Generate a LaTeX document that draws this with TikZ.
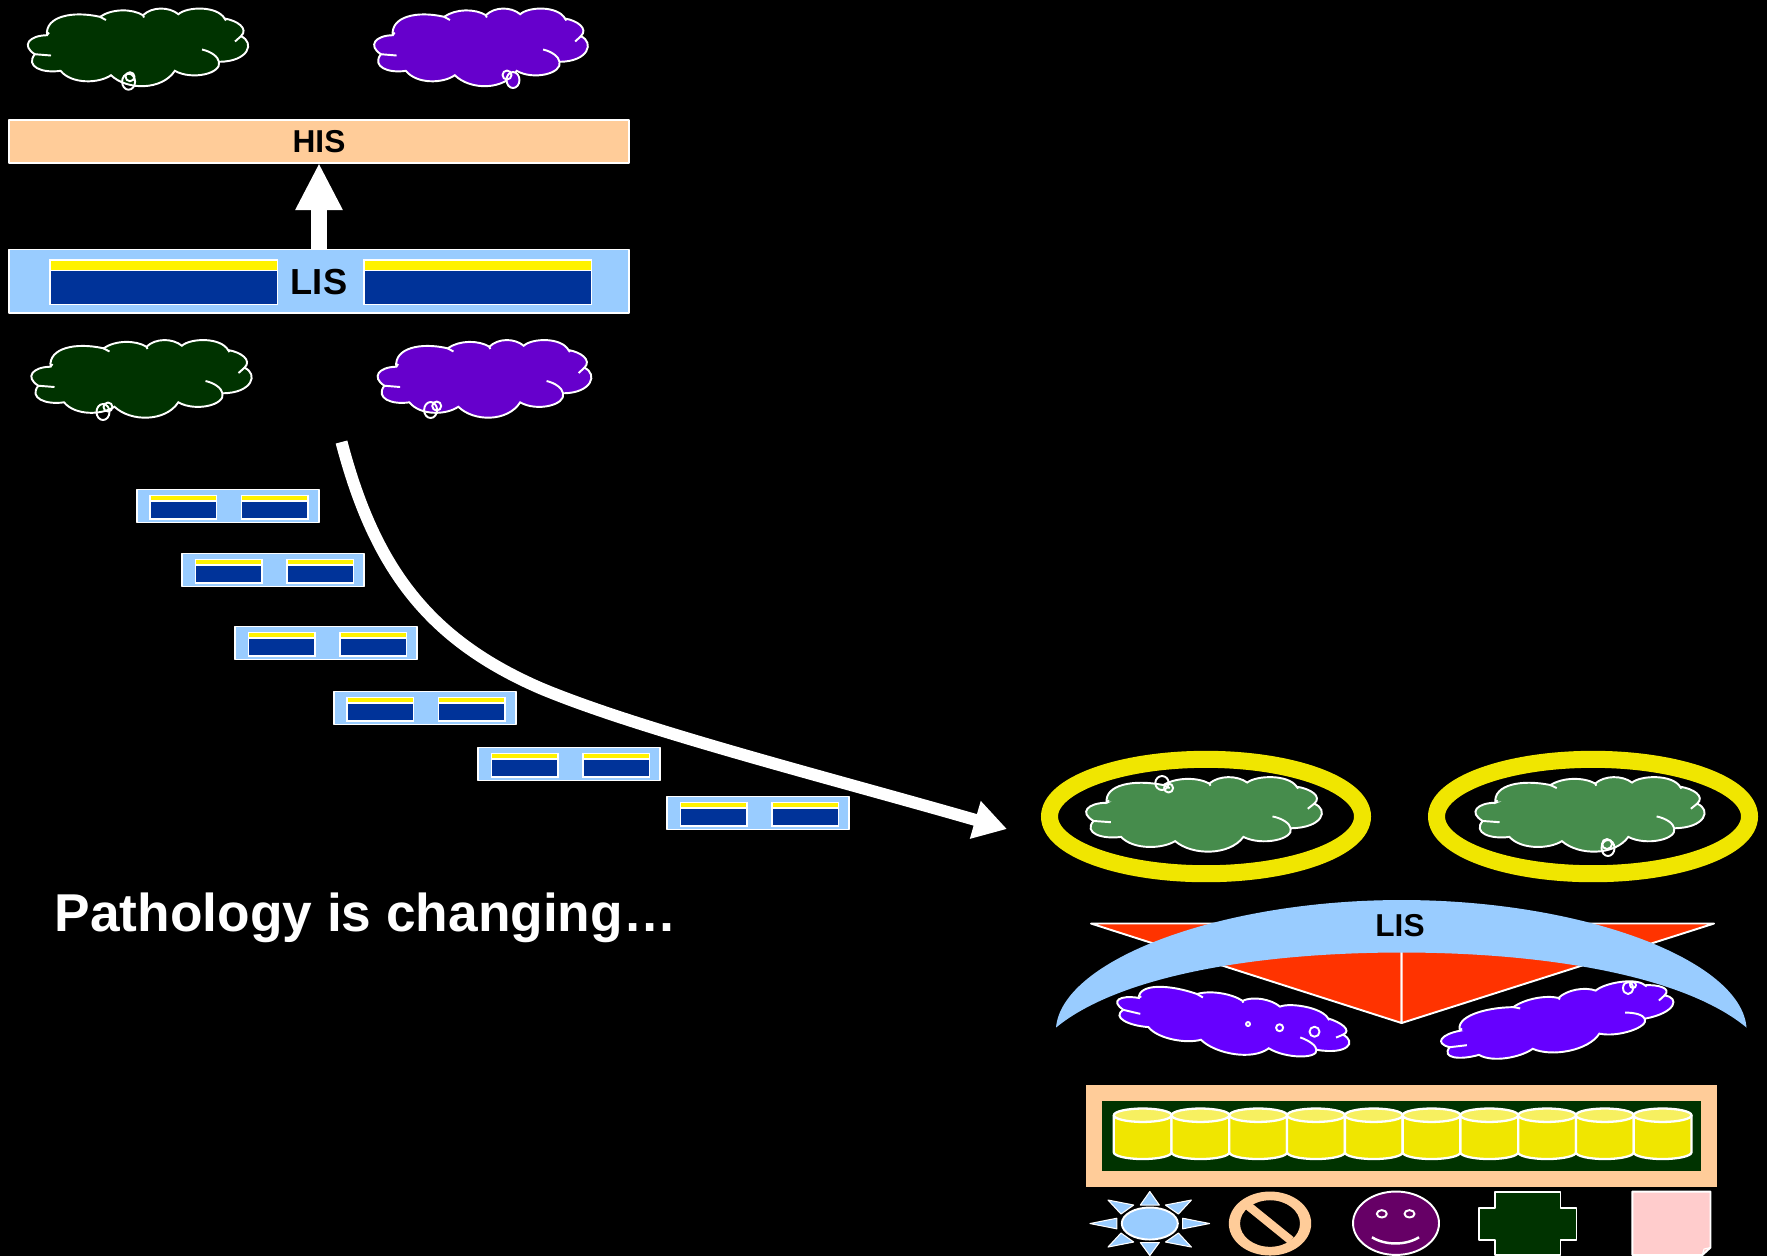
\documentclass[tikz,border=0pt]{standalone}
\usepackage{fontspec}
\setmainfont{Liberation Sans}
\usetikzlibrary{arrows.meta}

\definecolor{darkgreen}{HTML}{003300}
\definecolor{midgreen}{HTML}{468C4C}
\definecolor{deeppurple}{HTML}{6600CC}
\definecolor{brightpurple}{HTML}{6600FF}
\definecolor{plum}{HTML}{660066}
\definecolor{peach}{HTML}{FFCC99}
\definecolor{skyblue}{HTML}{99CCFF}
\definecolor{navy}{HTML}{003399}
\definecolor{ringyellow}{HTML}{F0E600}
\definecolor{lightyellow}{HTML}{F7F060}
\definecolor{redorange}{HTML}{FF3300}
\definecolor{notepink}{HTML}{FFCCCC}

\tikzset{
  thin line/.style={draw=white,line width=0.55pt,line join=round},
  bubble/.style={thin line},
  titlebar/.style={thin line,rectangle,inner sep=0pt,outer sep=0pt,font=\bfseries,text=black},
  bigarrow/.style={white,line width=#1},
  cloud/.pic={
    \draw[pic actions,shift={(-111,-39)}]
      (20,26.7) .. controls (18,8) and (45,2) .. (73,8.3)
      .. controls (85,0) and (105,0) .. (116,6.7)
      .. controls (125,-2) and (142,-2) .. (151.4,5.7)
      .. controls (160,-2) and (190,-3) .. (197.6,10)
      .. controls (210,12) and (222,20) .. (214,27.7)
      .. controls (228,34) and (222,53) .. (192,53.3)
      .. controls (195,65) and (165,72) .. (147.8,62.3)
      .. controls (135,82) and (100,82) .. (84,66.7)
      .. controls (72,75) and (45,76) .. (33.5,62.3)
      .. controls (15,65) and (-2,58) .. (7.8,45.7)
      .. controls (-6,37) and (2,27) .. cycle;
    \draw[thin line,shift={(-111,-39)}] (7.8,45.7) -- (24,47);
    \draw[thin line,shift={(-111,-39)}] (73,8.3) -- (79,11.5);
    \draw[thin line,shift={(-111,-39)}] (116,6.7) -- (117,9);
    \draw[thin line,shift={(-111,-39)}] (197.6,10) -- (199,12);
    \draw[thin line,shift={(-111,-39)}] (214,27.7) -- (208,33);
    \draw[thin line,shift={(-111,-39)}] (175,41) .. controls (184,43) and (191,48) .. (192,53.3);
    \draw[thin line,shift={(-111,-39)}] (20,26.7) -- (22,24);
  },
  lisbar/.pic={
    \draw[thin line,fill=skyblue] (0,0) rectangle (182,33);
    \foreach \x in {12.5,104}{
      \fill[white] (\x,5) rectangle ++(68,25);
      \fill[yellow] (\x+1.5,6.7) rectangle ++(65,3.5);
      \fill[navy] (\x+1.5,12) rectangle ++(65,16.5);
    }
  },
  disk/.pic={
    \draw[thin line,line width=0.65pt,fill=ringyellow] (0,6.7) -- (0,43.8) arc (180:0:28.9 and 6.7) -- (57.8,6.7);
    \draw[thin line,line width=0.65pt,fill=lightyellow] (28.9,6.7) ellipse (28.9 and 6.7);
  },
}

\begin{document}
\begin{tikzpicture}[x=0.01cm,y=-0.01cm]
\fill[black] (0,0) rectangle (1767,1256);
\useasboundingbox (0,0) rectangle (1767,1256);

\node[titlebar,fill=peach,minimum width=6.2cm,minimum height=0.43cm,font=\bfseries\fontsize{9}{10}\selectfont] (his) at (319,141.5) {HIS};
\node[titlebar,fill=skyblue,minimum width=6.2cm,minimum height=0.63cm] (lis) at (319,281) {};
\foreach \x in {49,363}{
  \fill[white] (\x,259) rectangle ++(229,46);
  \fill[yellow] (\x+1.5,261) rectangle ++(226,8.5);
  \fill[navy] (\x+1.5,271) rectangle ++(226,33);
}
\node[font=\bfseries\fontsize{10.3}{12}\selectfont,text=black,inner sep=0pt] (listext) at (319,282) {LIS};
\draw[bigarrow=0.155cm,-{Triangle[length=0.47cm,width=0.44cm]}] (lis.north) -- (his.south);

\pic[draw=white,line width=0.55pt,fill=darkgreen] at (138,47.5) {cloud};
\pic[draw=white,line width=0.55pt,fill=deeppurple,xscale=0.97] at (481,47.5) {cloud};
\pic[draw=white,line width=0.55pt,fill=darkgreen] at (141.5,379) {cloud};
\pic[draw=white,line width=0.55pt,fill=deeppurple,xscale=0.97] at (484.5,379) {cloud};
\draw[bubble] (128.6,81.7) ellipse (6.5 and 8);
\draw[bubble] (130,76.7) ellipse (4.5 and 4.5);
\draw[bubble,fill=deeppurple] (513,80) ellipse (6.5 and 8);
\draw[bubble] (507,75) ellipse (4.5 and 4.5);
\draw[bubble] (103,412) ellipse (6.5 and 8);
\draw[bubble] (108,407) ellipse (4.5 and 4.5);
\draw[bubble] (430.6,410) ellipse (6.5 and 8);
\draw[bubble] (436.7,406) ellipse (4.5 and 4.5);

\pic at (136.7,489.5) {lisbar};
\pic at (182,553.5) {lisbar};
\pic at (235,626.5) {lisbar};
\pic at (333.6,691.5) {lisbar};
\pic at (478,747.5) {lisbar};
\pic at (667,796.5) {lisbar};

\coordinate (curvestart) at (341.5,442);
\coordinate (curveend) at (1007,829);
\draw[bigarrow=0.12cm,-{Triangle[length=0.33cm,width=0.37cm]}] (curvestart)
  .. controls (375,570) and (430,640) .. (540,688)
  .. controls (640,730) and (830,778) .. (curveend);

\node[font=\bfseries\fontsize{15.15}{18}\selectfont,text=white,anchor=west,inner sep=0pt] (pathology) at (54,918) {Pathology is changing…};

\draw[ringyellow,line width=0.17cm] (1206,816.5) ellipse (156.5 and 57.2);
\draw[ringyellow,line width=0.17cm] (1593,816.5) ellipse (156.5 and 57.2);
\pic[draw=white,line width=0.55pt,fill=midgreen,xscale=1.07,yscale=0.96] at (1204,814.5) {cloud};
\pic[draw=white,line width=0.55pt,fill=midgreen,xscale=1.04,yscale=0.96] at (1590,814.5) {cloud};
\draw[bubble] (1162,783) ellipse (6.7 and 7);
\draw[bubble] (1168.6,788) ellipse (4.5 and 4.5);
\draw[bubble] (1608,848) ellipse (6.5 and 8);
\draw[bubble] (1607,844) ellipse (5 and 5);

\draw[thin line,fill=redorange] (1091,923.5) -- (1401.6,923.5) -- (1401.6,1023) -- cycle;
\draw[thin line,fill=redorange] (1714,923.5) -- (1401.6,923.5) -- (1401.6,1023) -- cycle;
\fill[skyblue] (1056,1027.5) .. controls (1062,960) and (1220,900) .. (1401.6,900)
  .. controls (1583,900) and (1741,960) .. (1746.5,1027.5)
  .. controls (1683,975) and (1543,952.5) .. (1401.6,952.5)
  .. controls (1260,952.5) and (1120,975) .. cycle;
\node[font=\bfseries\fontsize{9}{11}\selectfont,text=black,inner sep=0pt] (lowerlis) at (1400,926) {LIS};
\pic[draw=white,line width=0.55pt,fill=brightpurple,rotate=-10,xscale=1.07,yscale=0.76] at (1233,1024) {cloud};
\pic[draw=white,line width=0.55pt,fill=brightpurple,rotate=10,xscale=1.07,yscale=0.76] at (1557.5,1023) {cloud};
\draw[bubble] (1248,1024) circle (2);
\draw[bubble] (1279.6,1027.7) circle (3.5);
\draw[bubble] (1314.5,1031.7) circle (5);
\draw[bubble] (1628,988) ellipse (5 and 6);
\draw[bubble] (1633,985) circle (3);

\fill[peach] (1086,1085) rectangle (1717.4,1187);
\fill[darkgreen] (1102,1101) rectangle (1701.4,1171);
\foreach \i in {0,...,9}{
  \pic at (1113.8+\i*57.76,1108.5) {disk};
}

\foreach \p/\q/\r in {
  {1149.8,1191.5}/{1140.3,1205}/{1159.3,1205},
  {1149.8,1255.5}/{1140.3,1242.5}/{1159.3,1242.5},
  {1090,1223.5}/{1116.8,1218.2}/{1116.8,1228.8},
  {1209.6,1223.5}/{1182.7,1218.2}/{1182.7,1228.8},
  {1108,1200}/{1133.7,1205}/{1121,1214},
  {1191.4,1200}/{1165.4,1205}/{1178.4,1214},
  {1108,1247}/{1133.7,1242}/{1121,1233},
  {1191.4,1247}/{1165.4,1242}/{1178.4,1233}}{
  \draw[thin line,line width=0.3pt,fill=skyblue] (\p) -- (\q) -- (\r) -- cycle;
}
\draw[thin line,fill=skyblue] (1149.8,1223.5) ellipse (28 and 16);

\fill[peach,even odd rule] (1270,1223.5) ellipse (41.2 and 32) (1270,1223.5) ellipse (30 and 23.3);
\draw[peach,line width=0.085cm] (1247.8,1205.5) -- (1291,1240.5);

\draw[thin line,fill=plum] (1396,1223.2) ellipse (43 and 31.7);
\draw[thin line] (1381.8,1213.8) ellipse (5 and 3.7);
\draw[thin line] (1409.5,1213.8) ellipse (5 and 3.7);
\draw[thin line,line width=0.7pt] (1372,1237.2) .. controls (1385,1245.5) and (1406,1245.5) .. (1419,1237.2);

\draw[thin line,fill=darkgreen] (1495,1191.5) -- (1560.5,1191.5) -- (1560.5,1207.5) -- (1576.5,1207.5)
  -- (1576.5,1239.5) -- (1560.5,1239.5) -- (1560.5,1255) -- (1495,1255) -- (1495,1239.5)
  -- (1479,1239.5) -- (1479,1207.5) -- (1495,1207.5) -- cycle;

\draw[thin line,fill=notepink] (1632.4,1191.5) -- (1710.5,1191.5) -- (1710.5,1247.5) -- (1702.3,1255) -- (1632.4,1255) -- cycle;
\draw[thin line,line width=0.3pt] (1710.5,1247.5) -- (1704,1249) -- (1702.3,1255);
\end{tikzpicture}
\end{document}
